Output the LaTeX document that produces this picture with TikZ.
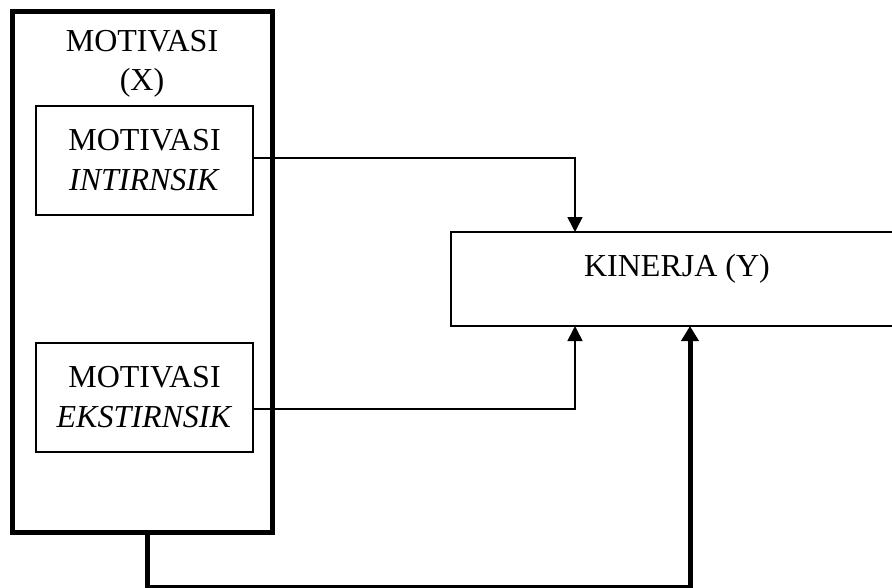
\documentclass[tikz,border=0pt]{standalone}
\usepackage{fontspec}
\setmainfont{Liberation Serif}
\usetikzlibrary{arrows.meta}
\begin{document}
\begin{tikzpicture}[x=1pt,y=-1pt,
  every node/.style={font=\fontsize{32}{39}\selectfont, inner sep=0pt},
  outerbox/.style={draw, line width=5pt, minimum width=260pt, minimum height=521pt},
  innerbox/.style={draw, line width=1.2pt, minimum width=217pt, minimum height=109pt, align=center,
    font=\fontsize{32}{40}\selectfont},
  kinbox/.style={draw, line width=1.2pt, minimum width=452pt, minimum height=94pt},
  thinarrow/.style={line width=1.6pt, -{Triangle[width=15pt,length=15pt]}},
  thickarrow/.style={line width=5pt, -{Triangle[width=17pt,length=15pt]}}]
\useasboundingbox (0,0) rectangle (892,587);
\node[outerbox] (outer) at (142,271.5) {};
\node[align=center] (title) at (142,64) {MOTIVASI\\(X)};
\node[innerbox] (i1) at (144.5,160.5) {MOTIVASI\\\textit{INTIRNSIK}};
\node[innerbox] (i2) at (144.5,397.5) {MOTIVASI\\\textit{EKSTIRNSIK}};
\node[kinbox] (kin) at (677,279) {};
\node (kintext) at (677,269) {KINERJA (Y)};
\coordinate (k1) at (575,232);
\coordinate (k2) at (575,326);
\coordinate (k3) at (690,326);
\draw[thinarrow] ([yshift=2.5pt]i1.east) -| (k1);
\draw[thinarrow] ([yshift=-11.5pt]i2.east) -| (k2);
\draw[thickarrow] ([xshift=5pt]outer.south) -- ++(0,53) -| (k3);
\end{tikzpicture}
\end{document}
